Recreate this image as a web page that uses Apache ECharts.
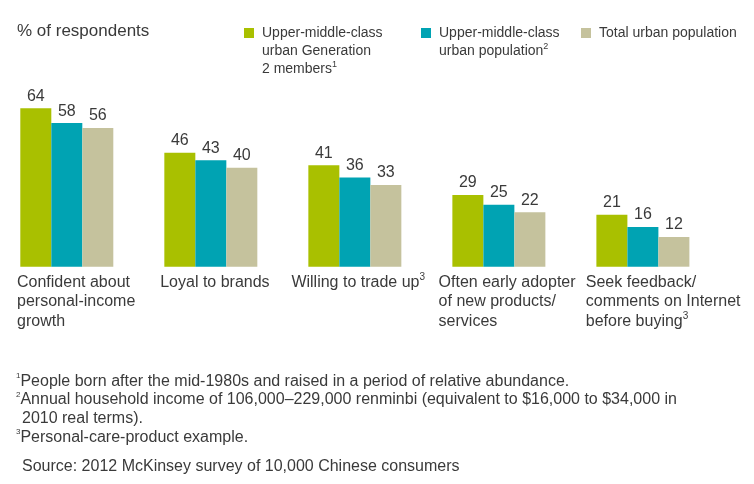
<!DOCTYPE html>
<html><head><meta charset="utf-8">
<script src="https://cdn.jsdelivr.net/npm/echarts@6/dist/echarts.min.js"></script>
<style>html,body{margin:0;padding:0;background:#fff}#c{width:754px;height:484px}</style>
</head><body><div id="c"></div>
<script>
// ---- data ----
const categories = [
  'Confident about personal-income growth',
  'Loyal to brands',
  'Willing to trade up',
  'Often early adopter of new products/ services',
  'Seek feedback/ comments on Internet before buying'
];
// label lines; '^n' marks a superscript footnote
const categoryLines = [
  ['Confident about', 'personal-income', 'growth'],
  ['Loyal to brands'],
  ['Willing to trade up^3'],
  ['Often early adopter', 'of new products/', 'services'],
  ['Seek feedback/', 'comments on Internet', 'before buying^3']
];
const seriesNames = [
  'Upper-middle-class urban Generation 2 members',
  'Upper-middle-class urban population',
  'Total urban population'
];
const legendLines = [
  ['Upper-middle-class', 'urban Generation', '2 members^1'],
  ['Upper-middle-class', 'urban population^2'],
  ['Total urban population']
];
const gen2Values = [64, 46, 41, 29, 21];
const upperMiddleValues = [58, 43, 36, 25, 16];
const totalUrbanValues = [56, 40, 33, 22, 12];
const yTitle = '% of respondents';
const footnotes = [
  ['1', 'People born after the mid-1980s and raised in a period of relative abundance.'],
  ['2', 'Annual household income of 106,000–229,000 renminbi (equivalent to $16,000 to $34,000 in'],
  ['', '2010 real terms).'],
  ['3', 'Personal-care-product example.']
];
const sourceText = 'Source: 2012 McKinsey survey of 10,000 Chinese consumers';

// ---- styling ----
const colors = ['#a9c000', '#00a3b3', '#c5c29d'];
const textColor = '#3a3a3a';
const FONT = '"Liberation Sans", Arial, Helvetica, sans-serif';
const labelPads = [15, 14, 1, 4, 7];

function lineToRich(line, style, supStyle) {
  const m = line.match(/^(.*)\^(\d)$/);
  if (m) return '{' + style + '|' + m[1] + '}{' + supStyle + '|' + m[2] + '}';
  return '{' + style + '|' + line + '}';
}

const catRich = { sup: { fontFamily: FONT, fontSize: 10, lineHeight: 13, verticalAlign: 'top', color: textColor } };
labelPads.forEach((p, i) => {
  catRich['c' + i] = { fontFamily: FONT, fontSize: 16, lineHeight: 19.5, color: textColor, padding: [0, 0, 0, p] };
});

const LH = 18;
function makeLegend(i, left, top) {
  const n = legendLines[i].length;
  return {
    data: [seriesNames[i]],
    left: left, top: top, padding: 0,
    orient: 'horizontal',
    icon: 'rect', itemWidth: 10, itemHeight: 10,
    selectedMode: false,
    itemStyle: { borderWidth: 0 },
    formatter: () => legendLines[i].map(l => lineToRich(l, 't', 's')).join('\n'),
    textStyle: {
      padding: [(n - 1) * LH, 0, 0, 3],
      rich: {
        t: { fontFamily: FONT, fontSize: 14, lineHeight: LH, color: textColor },
        s: { fontFamily: FONT, fontSize: 9, lineHeight: 11, verticalAlign: 'top', color: textColor }
      }
    }
  };
}

const footText = footnotes.map(f => f[0] ? '{s|' + f[0] + '}{f|' + f[1] + '}' : '{i|' + f[1] + '}').join('\n');

const GL = -5.2, GR = 39.1, GT = 93.4, GB = 217.3, SHIFT = 64;

const barSeries = [gen2Values, upperMiddleValues, totalUrbanValues].map((vals, i) => ({
  name: seriesNames[i],
  type: 'bar',
  data: vals,
  barWidth: 31,
  barGap: '0%',
  xAxisIndex: 0, yAxisIndex: 0,
  itemStyle: { color: colors[i] },
  emphasis: { disabled: true },
  label: { show: true, position: 'top', distance: 4, fontFamily: FONT, fontSize: 16, color: textColor }
}));

const option = {
  animation: false,
  backgroundColor: '#ffffff',
  color: colors,
  title: [
    { text: yTitle, left: 17, top: 21.5, padding: 0,
      textStyle: { fontFamily: FONT, fontSize: 17, fontWeight: 'normal', color: textColor, lineHeight: 20 } },
    { text: footText, left: 16, top: 372, padding: 0,
      textStyle: { fontWeight: 'normal', rich: {
        s: { fontFamily: FONT, fontSize: 8, fontWeight: 'normal', lineHeight: 12, verticalAlign: 'top', color: textColor },
        f: { fontFamily: FONT, fontSize: 16, fontWeight: 'normal', lineHeight: 18.7, color: textColor },
        i: { fontFamily: FONT, fontSize: 16, fontWeight: 'normal', lineHeight: 18.7, color: textColor, padding: [0, 0, 0, 6] }
      } } },
    { text: sourceText, left: 22, top: 457, padding: 0,
      textStyle: { fontFamily: FONT, fontSize: 16, fontWeight: 'normal', color: textColor, lineHeight: 18.7 } }
  ],
  legend: [
    makeLegend(0, 244, 26),
    makeLegend(1, 421, 26),
    makeLegend(2, 581, 26)
  ],
  grid: [
    { left: GL, right: GR, top: GT, bottom: GB, containLabel: false, outerBoundsMode: 'none' },
    { left: -6.1 - SHIFT, right: GR + SHIFT, top: GT, bottom: GB, containLabel: false, outerBoundsMode: 'none' }
  ],
  xAxis: [
    { type: 'category', gridIndex: 0, data: categories,
      axisLine: { show: false }, axisTick: { show: false }, axisLabel: { show: false }, splitLine: { show: false } },
    { type: 'category', gridIndex: 1, data: categories,
      axisLine: { show: false }, axisTick: { show: false }, splitLine: { show: false },
      axisLabel: {
        show: true, interval: 0, align: 'left', margin: 6, hideOverlap: false,
        formatter: (v, idx) => categoryLines[idx].map(l => lineToRich(l, 'c' + idx, 'sup')).join('\n'),
        rich: catRich
      } }
  ],
  yAxis: [
    { type: 'value', gridIndex: 0, min: 0, max: 70, show: false, splitLine: { show: false } },
    { type: 'value', gridIndex: 1, min: 0, max: 70, show: false, splitLine: { show: false } }
  ],
  series: barSeries
};

const chart = echarts.init(document.getElementById('c'), null, { renderer: 'canvas' });
chart.setOption(option);
</script>
</body></html>
